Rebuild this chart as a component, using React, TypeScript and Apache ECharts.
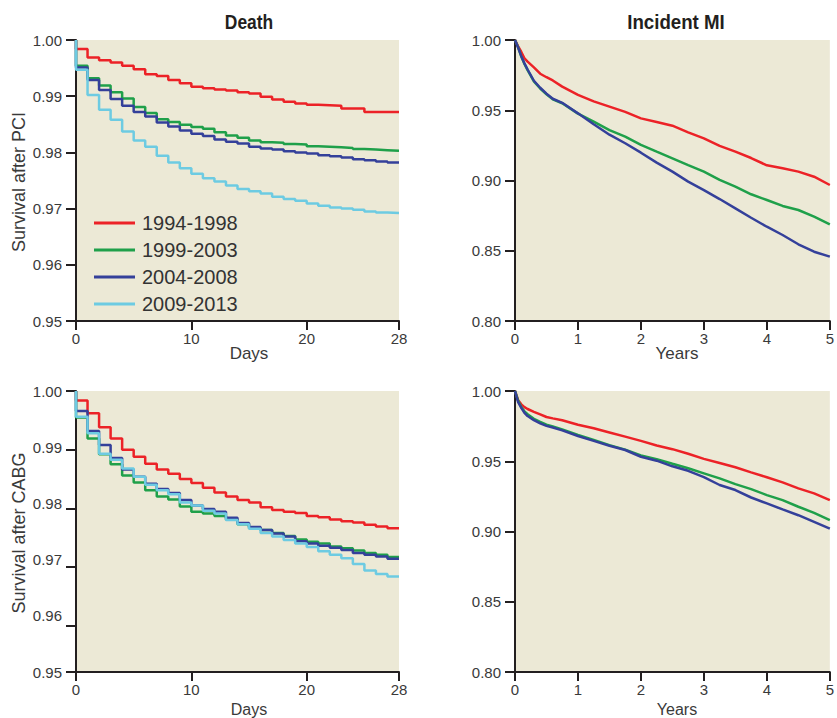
import React, { useEffect, useRef } from "react";
import * as echarts from "echarts";

// ---------- data ----------
const PERIODS = ["1994-1998", "1999-2003", "2004-2008", "2009-2013"];
const COLORS = ["#ec2227", "#1fa04a", "#34409a", "#6dcbe2"];

// Kaplan–Meier survival during day d .. d+1 (d = 0..27), 28-day follow-up
const DAY_TICKS = [0, 10, 20, 28];
const YEAR_TICKS = [0, 1, 2, 3, 4, 5];

const pciDeath1994 = [0.9984, 0.9969, 0.9964, 0.996, 0.9954, 0.9948, 0.9939, 0.9936, 0.9929, 0.9923, 0.9917, 0.9914, 0.9912, 0.991, 0.9907, 0.9905, 0.9899, 0.9894, 0.989, 0.9887, 0.9885, 0.9884, 0.9883, 0.9878, 0.9878, 0.9872, 0.9872, 0.9872];
const pciDeath1999 = [0.9954, 0.9932, 0.9919, 0.9907, 0.9896, 0.9881, 0.987, 0.9859, 0.9854, 0.9849, 0.9845, 0.9842, 0.9836, 0.983, 0.9826, 0.9821, 0.9818, 0.9817, 0.9815, 0.9814, 0.9811, 0.981, 0.9809, 0.9808, 0.9806, 0.9805, 0.9804, 0.9803];
const pciDeath2004 = [0.9951, 0.9929, 0.9911, 0.9895, 0.9883, 0.9872, 0.9864, 0.9853, 0.9846, 0.9839, 0.9833, 0.9829, 0.9823, 0.9819, 0.9816, 0.981, 0.9807, 0.9805, 0.9802, 0.98, 0.9798, 0.9795, 0.9793, 0.9791, 0.9788, 0.9786, 0.9784, 0.9782];
const pciDeath2009 = [0.9947, 0.9902, 0.9876, 0.9858, 0.9837, 0.9821, 0.981, 0.9794, 0.9782, 0.9772, 0.9762, 0.9754, 0.9748, 0.9741, 0.9735, 0.9731, 0.9727, 0.9721, 0.9717, 0.9714, 0.9709, 0.9705, 0.9702, 0.97, 0.9698, 0.9695, 0.9693, 0.9692];

const cabgDeath1994 = [0.9984, 0.9962, 0.9938, 0.9919, 0.99, 0.9888, 0.9876, 0.9866, 0.9859, 0.985, 0.9843, 0.9835, 0.9827, 0.982, 0.9814, 0.981, 0.9802, 0.9797, 0.9794, 0.9792, 0.9787, 0.9785, 0.9781, 0.9778, 0.9776, 0.9772, 0.9769, 0.9766];
const cabgDeath1999 = [0.9955, 0.9919, 0.9892, 0.9875, 0.9856, 0.9844, 0.9831, 0.982, 0.9815, 0.9803, 0.9794, 0.9791, 0.9787, 0.9781, 0.9773, 0.9766, 0.9763, 0.9758, 0.9753, 0.9747, 0.9743, 0.974, 0.9735, 0.9732, 0.9728, 0.9724, 0.9721, 0.9717];
const cabgDeath2004 = [0.9966, 0.9932, 0.9908, 0.9886, 0.9866, 0.9854, 0.9842, 0.9833, 0.9826, 0.9814, 0.9805, 0.9799, 0.9794, 0.9784, 0.9775, 0.9768, 0.9763, 0.9757, 0.9752, 0.9744, 0.974, 0.9736, 0.9733, 0.9729, 0.9724, 0.9721, 0.9718, 0.9714];
const cabgDeath2009 = [0.9956, 0.9928, 0.9893, 0.9883, 0.9868, 0.9854, 0.984, 0.9831, 0.9824, 0.981, 0.9805, 0.9796, 0.9791, 0.978, 0.9773, 0.9765, 0.9758, 0.9752, 0.9746, 0.974, 0.9734, 0.9727, 0.9721, 0.9715, 0.9705, 0.9694, 0.9688, 0.9684];

// Incident MI, 5-year follow-up
const YEARS = [0, 0.05, 0.1, 0.15, 0.2, 0.3, 0.4, 0.5, 0.6, 0.75, 1, 1.25, 1.5, 1.75, 2, 2.25, 2.5, 2.75, 3, 3.25, 3.5, 3.75, 4, 4.25, 4.5, 4.75, 5];
const pciMI1994 = [1, 0.9955, 0.9915, 0.987, 0.9846, 0.9805, 0.976, 0.9735, 0.9712, 0.9668, 0.9609, 0.9563, 0.9526, 0.9488, 0.9442, 0.9416, 0.939, 0.9343, 0.93, 0.9246, 0.9205, 0.916, 0.9108, 0.9087, 0.9063, 0.9027, 0.8968];
const pciMI1999 = [1, 0.9948, 0.9882, 0.983, 0.9786, 0.9706, 0.9655, 0.9614, 0.9578, 0.955, 0.9476, 0.9419, 0.9359, 0.9312, 0.9253, 0.9205, 0.9158, 0.911, 0.9063, 0.9004, 0.8956, 0.8902, 0.8861, 0.8819, 0.879, 0.8743, 0.8688];
const pciMI2004 = [1, 0.9945, 0.9885, 0.9834, 0.979, 0.971, 0.966, 0.9618, 0.9582, 0.9553, 0.9478, 0.94, 0.9326, 0.9265, 0.9198, 0.9127, 0.9063, 0.8992, 0.8932, 0.8868, 0.8802, 0.8735, 0.8671, 0.8612, 0.8546, 0.8493, 0.8458];

const cabgMI1994 = [1, 0.9935, 0.9905, 0.9885, 0.9872, 0.9852, 0.9834, 0.9815, 0.9805, 0.9792, 0.976, 0.9735, 0.9705, 0.9675, 0.9645, 0.9612, 0.9586, 0.9553, 0.9517, 0.9487, 0.9457, 0.9421, 0.9386, 0.935, 0.9307, 0.9271, 0.9223];
const cabgMI1999 = [1, 0.993, 0.9885, 0.9855, 0.9835, 0.9802, 0.978, 0.976, 0.9747, 0.9727, 0.9688, 0.9652, 0.9615, 0.9583, 0.9542, 0.9515, 0.9482, 0.945, 0.9414, 0.9378, 0.9337, 0.9302, 0.9259, 0.9223, 0.9176, 0.9133, 0.9081];
const cabgMI2004 = [1, 0.992, 0.988, 0.9845, 0.9822, 0.9792, 0.977, 0.9752, 0.974, 0.972, 0.968, 0.9645, 0.961, 0.958, 0.9532, 0.9504, 0.9464, 0.9432, 0.9387, 0.9331, 0.9295, 0.9242, 0.92, 0.9157, 0.9116, 0.9069, 0.9021];

// y-axis tick values / labels
const PCI_DEATH_Y = { min: 0.95, max: 1, step: 0.01 };
const MI_Y = { min: 0.8, max: 1, step: 0.05 };
const CABG_DEATH_TICKS = [0.9521, 0.96, 0.97, 0.98, 0.99, 1];

// ---------- styling ----------
const BG = "#ece9d6";
const AXIS = "#231f20";
const LABEL = "#3a3a3a";
const SANS = '"Liberation Sans", Arial, sans-serif';

function kmSteps(vals: number[]) {
  const pts: number[][] = [[0, 1]];
  vals.forEach((v, d) => pts.push([d, v]));
  pts.push([vals.length, vals[vals.length - 1]]);
  return pts;
}
function curve(xs: number[], ys: number[]) {
  return xs.map((x, i) => [x, ys[i]]);
}

export default function App() {
  const ref = useRef<HTMLDivElement>(null);
  useEffect(() => {
    if (!ref.current) return;
    const chart = echarts.init(ref.current, null, { renderer: "svg" });

    const grids = [
      { left: 76, top: 40, width: 323, height: 281 },
      { left: 515, top: 40, width: 321, height: 281 },
      { left: 76, top: 391, width: 323, height: 281 },
      { left: 515, top: 391, width: 321, height: 281 },
    ].map((g) => ({ ...g, show: true, backgroundColor: BG, borderWidth: 0, containLabel: false }));

    const xAxis = (gridIndex: number, max: number, ticks: number[]) => ({
      type: "value",
      gridIndex,
      position: "bottom",
      min: 0,
      max,
      axisLine: { show: true, onZero: false, lineStyle: { color: AXIS, width: 2 } },
      axisTick: { show: true, length: 9, customValues: ticks, lineStyle: { color: AXIS, width: 2 } },
      axisLabel: { customValues: ticks, margin: 10, fontSize: 15, fontFamily: SANS, color: LABEL },
      splitLine: { show: false },
    });

    const yAxisBase = {
      type: "value",
      position: "left",
      axisLine: { show: true, onZero: false, lineStyle: { color: AXIS, width: 2 } },
      axisTick: { show: true, length: 10, lineStyle: { color: AXIS, width: 2 } },
      axisLabel: { margin: 14, fontSize: 15, fontFamily: SANS, color: LABEL, formatter: (v: number) => v.toFixed(2) },
      splitLine: { show: false },
    };

    const yAxes = [
      { ...yAxisBase, gridIndex: 0, min: PCI_DEATH_Y.min, max: PCI_DEATH_Y.max, interval: PCI_DEATH_Y.step },
      { ...yAxisBase, gridIndex: 1, min: MI_Y.min, max: MI_Y.max, interval: MI_Y.step },
      {
        ...yAxisBase,
        gridIndex: 2,
        min: CABG_DEATH_TICKS[0],
        max: 1,
        axisTick: { ...yAxisBase.axisTick, customValues: CABG_DEATH_TICKS },
        axisLabel: { show: false },
      },
      { ...yAxisBase, gridIndex: 3, min: MI_Y.min, max: MI_Y.max, interval: MI_Y.step },
      {
        ...yAxisBase,
        gridIndex: 2,
        offset: 0,
        min: PCI_DEATH_Y.min,
        max: PCI_DEATH_Y.max,
        interval: PCI_DEATH_Y.step,
        axisLine: { show: false },
        axisTick: { show: false },
      },
    ];

    const line = (name: string, color: string, xi: number, yi: number, data: number[][], step: boolean) => ({
      type: "line",
      name,
      xAxisIndex: xi,
      yAxisIndex: yi,
      data,
      step: step ? "end" : false,
      showSymbol: false,
      symbol: "none",
      lineStyle: { color, width: 2.5 },
      itemStyle: { color },
      emphasis: { disabled: true },
      silent: true,
    });

    const pciDeath = [pciDeath1994, pciDeath1999, pciDeath2004, pciDeath2009];
    const cabgDeath = [cabgDeath1994, cabgDeath1999, cabgDeath2004, cabgDeath2009];
    const pciMI = [pciMI1994, pciMI1999, pciMI2004];
    const cabgMI = [cabgMI1994, cabgMI1999, cabgMI2004];

    const series = [
      ...pciDeath.map((v, i) => line(PERIODS[i], COLORS[i], 0, 0, kmSteps(v), true)),
      ...pciMI.map((v, i) => line(PERIODS[i], COLORS[i], 1, 1, curve(YEARS, v), false)),
      ...cabgDeath.map((v, i) => line(PERIODS[i], COLORS[i], 2, 2, kmSteps(v), true)),
      ...cabgMI.map((v, i) => line(PERIODS[i], COLORS[i], 3, 3, curve(YEARS, v), false)),
    ];

    const text = (
      t: string,
      x: number,
      y: number,
      font: string,
      color: string,
      opts: { rotation?: number; scaleX?: number; valign?: string } = {}
    ) => ({
      type: "text",
      x,
      y,
      rotation: opts.rotation || 0,
      scaleX: opts.scaleX || 1,
      silent: true,
      style: { text: t, font, fill: color, textAlign: "center", textVerticalAlign: opts.valign || "middle" },
    });

    chart.setOption({
      animation: false,
      grid: grids,
      xAxis: [
        xAxis(0, 28, DAY_TICKS),
        xAxis(1, 5, YEAR_TICKS),
        xAxis(2, 28, DAY_TICKS),
        xAxis(3, 5, YEAR_TICKS),
      ],
      yAxis: yAxes,
      legend: {
        data: PERIODS,
        orient: "vertical",
        left: 94,
        top: 213,
        padding: 0,
        itemWidth: 41,
        itemHeight: 3,
        itemGap: 7,
        icon: "rect",
        selectedMode: false,
        textStyle: { fontSize: 20, fontFamily: SANS, color: "#333", padding: [0, 0, 0, 2] },
      },
      graphic: [
        text("Death", 249, 22, `bold 21px ${SANS}`, AXIS, { scaleX: 0.83 }),
        text("Incident MI", 676, 22, `bold 21px ${SANS}`, AXIS, { scaleX: 0.89 }),
        text("Days", 249, 353, `17px ${SANS}`, LABEL),
        text("Years", 677, 353, `17px ${SANS}`, LABEL),
        text("Days", 249, 717, `16px ${SANS}`, LABEL, { valign: "bottom" }),
        text("Years", 677, 717, `16px ${SANS}`, LABEL, { valign: "bottom" }),
        text("Survival after PCI", 19, 182, `18px ${SANS}`, LABEL, { rotation: Math.PI / 2 }),
        text("Survival after CABG", 19, 533, `18px ${SANS}`, LABEL, { rotation: Math.PI / 2 }),
      ],
      series,
    });
    return () => chart.dispose();
  }, []);
  return <div ref={ref} style={{ position: "absolute", left: 0, top: 0, width: 837, height: 718 }} />;
}
